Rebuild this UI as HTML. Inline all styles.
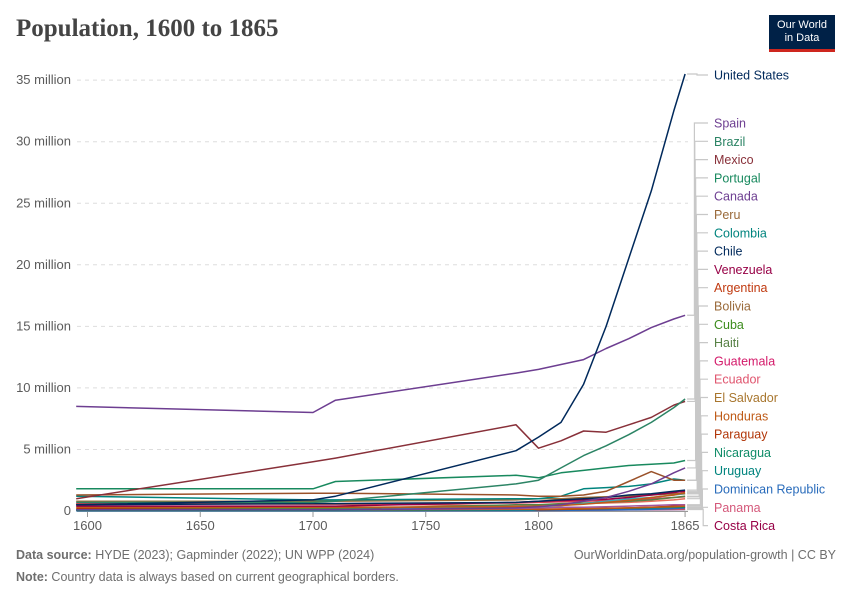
<!DOCTYPE html>
<html><head><meta charset="utf-8">
<style>
body{margin:0;background:#fff;font-family:"Liberation Sans",sans-serif;}
#wrap{position:relative;width:850px;height:600px;overflow:hidden;}
h1{position:absolute;left:16px;top:15px;margin:0;font-family:"Liberation Serif",serif;font-size:25px;font-weight:bold;color:#444;}
.logo{position:absolute;left:769px;top:15px;width:66px;height:37px;background:#002147;color:#fff;font-size:11px;text-align:center;line-height:13px;padding-top:4px;box-sizing:border-box;border-bottom:3px solid #ce261e;}
.foot{position:absolute;font-size:12.5px;color:#6e6e6e;}
</style></head><body>
<div id="wrap">
<h1>Population, 1600 to 1865</h1>
<div class="logo">Our World<br>in Data</div>
<svg id="chart" width="850" height="600" style="position:absolute;left:0;top:0"></svg>
<div class="foot" style="left:16px;top:548px"><b>Data source:</b> HYDE (2023); Gapminder (2022); UN WPP (2024)</div>
<div class="foot" style="right:14px;top:548px">OurWorldinData.org/population-growth | CC BY</div>
<div class="foot" style="left:16px;top:570px"><b>Note:</b> Country data is always based on current geographical borders.</div>
</div>
<script>
const years=[1595,1700,1710,1790,1800,1810,1820,1830,1840,1850,1860,1865];
const countries=["United States","Spain","Brazil","Mexico","Portugal","Canada","Peru","Colombia","Chile","Venezuela","Argentina","Bolivia","Cuba","Haiti","Guatemala","Ecuador","El Salvador","Honduras","Paraguay","Nicaragua","Uruguay","Dominican Republic","Panama","Costa Rica"];
const colors=["#00295b","#6d3e91","#2c8465","#883039","#18895e","#6d3e91","#9a5129","#00847e","#00295b","#970046","#c05917","#996d39","#38aaba","#578145","#d73c50","#e56e5a","#a2559c","#be5915","#b13507","#0f8c68","#286bbb","#286bbb","#c15065","#a2559c"];
const legendColors=["#00295b","#6d3e91","#2c8465","#883039","#18895e","#6d3e91","#9a6a3a","#00847e","#00295b","#970046","#c0390f","#9a6a3a","#3d8c1d","#578145","#d41a6a","#e0556e","#a8762e","#be5915","#b13507","#0f8c68","#00847e","#286bbb","#d4587a","#970046"];
const series=[
[0.5,0.9,1.2,4.9,6.0,7.2,10.3,15.0,20.5,26.0,32.5,35.5],
[8.5,8.0,9.0,11.2,11.5,11.9,12.3,13.2,14.0,14.9,15.6,15.9],
[0.7,0.7,0.8,2.2,2.5,3.5,4.5,5.3,6.2,7.2,8.4,9.1],
[1.0,4.0,4.3,7.0,5.1,5.7,6.5,6.4,7.0,7.6,8.6,8.9],
[1.8,1.8,2.4,2.9,2.7,3.1,3.3,3.5,3.7,3.8,3.9,4.1],
[0.1,0.1,0.1,0.25,0.35,0.5,0.8,1.1,1.6,2.2,3.1,3.5],
[1.3,1.45,1.45,1.3,1.2,1.2,1.3,1.6,2.4,3.2,2.5,2.5],
[1.2,0.9,0.9,1.0,1.0,1.2,1.8,1.9,2.0,2.2,2.6,2.5],
[0.5,0.6,0.6,0.7,0.8,0.9,1.0,1.1,1.3,1.4,1.6,1.7],
[0.4,0.4,0.4,0.7,0.8,0.85,0.9,0.95,1.1,1.3,1.5,1.6],
[0.3,0.3,0.3,0.35,0.4,0.45,0.55,0.7,0.85,1.1,1.3,1.5],
[0.8,0.8,0.8,0.9,1.0,1.0,1.1,1.15,1.2,1.3,1.4,1.4],
[0.1,0.1,0.1,0.3,0.35,0.45,0.6,0.8,1.0,1.1,1.3,1.4],
[0.1,0.2,0.2,0.5,0.5,0.6,0.65,0.7,0.8,0.9,1.1,1.2],
[0.6,0.6,0.6,0.65,0.7,0.75,0.8,0.85,0.9,1.0,1.1,1.15],
[0.6,0.55,0.55,0.45,0.5,0.55,0.6,0.65,0.7,0.8,0.9,1.0],
[0.1,0.1,0.1,0.2,0.25,0.3,0.3,0.35,0.4,0.45,0.5,0.5],
[0.1,0.1,0.1,0.15,0.15,0.17,0.2,0.22,0.25,0.3,0.35,0.4],
[0.2,0.2,0.2,0.25,0.1,0.13,0.16,0.2,0.25,0.3,0.4,0.5],
[0.05,0.05,0.05,0.1,0.1,0.15,0.17,0.2,0.22,0.25,0.3,0.3],
[0.02,0.02,0.02,0.03,0.04,0.05,0.07,0.08,0.1,0.13,0.2,0.25],
[0.05,0.05,0.05,0.1,0.1,0.1,0.1,0.15,0.15,0.2,0.25,0.3],
[0.05,0.05,0.05,0.08,0.08,0.1,0.1,0.1,0.12,0.13,0.14,0.15],
[0.03,0.03,0.03,0.05,0.05,0.05,0.06,0.07,0.09,0.1,0.11,0.12]];
const yTicks=[0,5,10,15,20,25,30,35];
const xTicks=[1600,1650,1700,1750,1800,1865];
const NS="http://www.w3.org/2000/svg";
const svg=document.getElementById('chart');
const X=y=>87.5+(y-1600)*2.255;
const Y=v=>511-v*12.31;
function mk(t,a){const e=document.createElementNS(NS,t);for(const k in a)e.setAttribute(k,a[k]);svg.appendChild(e);return e;}
yTicks.forEach(t=>{
 const g=mk('line',{x1:77,x2:688,y1:Y(t),y2:Y(t),stroke:'#ddd','stroke-dasharray':t?'4,4':'',});
 
 
 const l=mk('text',{x:71,y:Y(t)+4,'text-anchor':'end','font-size':13,fill:'#5b5b5b'});
 l.textContent=t?t+' million':'0';
 
 
});
const ax=mk('line',{x1:77,x2:688,y1:511.5,y2:511.5,stroke:'#999'});


xTicks.forEach(t=>{
 const tk=mk('line',{x1:X(t),x2:X(t),y1:512,y2:517,stroke:'#999'});
 
 
 const l=mk('text',{x:X(t),y:530,'text-anchor':'middle','font-size':13,fill:'#5b5b5b'});
 l.textContent=t;
 
 
});
for(let i=series.length-1;i>=0;i--){
 const d=series[i].map((v,j)=>(j?'L':'M')+X(years[j]).toFixed(1)+','+Y(v).toFixed(1)).join('');
 const p=mk('path',{d:d,fill:'none',stroke:colors[i],'stroke-width':1.5,'stroke-linejoin':'round'});
 
 
}
countries.forEach((c,i)=>{
 const ly=i===0?75:123+(i-1)*18.3;
 const ey=Y(series[i][series[i].length-1]);
 const bx=i===0?697:694+i*0.4;
 const con=mk('polyline',{points:`${X(1865)+2},${ey} ${bx},${ey} ${bx},${ly} 708,${ly}`,fill:'none',stroke:'#c8c8c8','stroke-width':1.2});
 
 
 const t=mk('text',{x:714,y:ly+4.5,'font-size':12.5,fill:legendColors[i]});
 t.textContent=c;
 
 
});
</script>
</body></html>
